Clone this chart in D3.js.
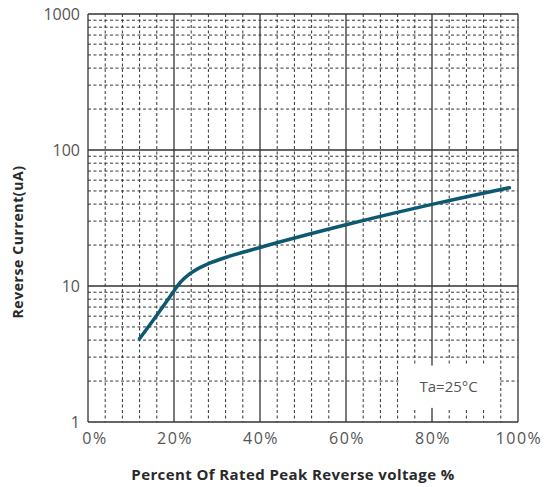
<!DOCTYPE html>
<html>
<head>
<meta charset="utf-8">
<script src="https://cdn.jsdelivr.net/npm/d3@7"></script>
<style>
  body { margin: 0; background: #fff; }
  svg { display: block; }
</style>
</head>
<body>
<svg id="chart" width="557" height="487"></svg>
<script>
// curve
const pct = [12, 16, 20, 21, 24, 28, 32, 40, 60, 80, 98]
const current = [4.1, 6.1, 9.2, 10.2, 12.5, 14.6, 16.2, 19.2, 28.2, 39.8, 52.8]

const xTicks = [0, 20, 40, 60, 80, 100]
const xTickLabels = ["0%", "20%", "40%", "60%", "80%", "100%"]
const yTicks = [1, 10, 100, 1000]
const yTickLabels = ["1", "10", "100", "1000"]
const legendText = "Ta=25°C"

const width = 557
const height = 487
const margin = {top: 14, left: 88, right: 39, bottom: 65}

const svg = d3.select("#chart")

const x = d3.scaleLinear().domain([0, 100]).range([margin.left, width - margin.right])
const y = d3.scaleLog().domain([1, 1000]).range([height - margin.bottom, margin.top])

const grid = svg.append("g")

// minor vertical lines every 4%
const xMinor = d3.range(4, 100, 4).filter(d => d % 20 !== 0)
grid.selectAll(".vminor").data(xMinor).join("line")
    .attr("x1", d => x(d)).attr("x2", d => x(d))
    .attr("y1", y(1000)).attr("y2", y(1))
    .attr("stroke", "#333").attr("stroke-width", 1)
    .attr("stroke-dasharray", "3,2.5")

// minor horizontal lines 2..9 in every decade
let yMinor = []
for (const dec of [1, 10, 100]) {
    for (let k = 2; k <= 9; k++) yMinor.push(dec * k)
}
grid.selectAll(".hminor").data(yMinor).join("line")
    .attr("x1", x(0)).attr("x2", x(100))
    .attr("y1", d => y(d)).attr("y2", d => y(d))
    .attr("stroke", "#333").attr("stroke-width", 1)
    .attr("stroke-dasharray", "3,2.5")

// major lines
grid.selectAll(".vmajor").data(xTicks).join("line")
    .attr("x1", d => x(d)).attr("x2", d => x(d))
    .attr("y1", y(1000)).attr("y2", y(1))
    .attr("stroke", "#333").attr("stroke-width", 1.3)
grid.selectAll(".hmajor").data(yTicks).join("line")
    .attr("x1", x(0)).attr("x2", x(100))
    .attr("y1", d => y(d)).attr("y2", d => y(d))
    .attr("stroke", "#333").attr("stroke-width", 1.3)

// legend box
const lx0 = x(72.2), lx1 = x(95.5)
const ly0 = y(2.6), ly1 = y(1.27)
svg.append("rect")
    .attr("x", lx0).attr("y", ly0)
    .attr("width", lx1 - lx0).attr("height", ly1 - ly0)
    .attr("fill", "#fff")
svg.append("text")
    .attr("x", (lx0 + lx1) / 2).attr("y", (ly0 + ly1) / 2 + 5)
    .attr("text-anchor", "middle")
    .attr("font-family", "Open Sans, sans-serif").attr("font-size", 15)
    .attr("fill", "#555")
    .text(legendText)

// curve
const line = d3.line()
    .x((d, i) => x(pct[i]))
    .y((d, i) => y(current[i]))
    .curve(d3.curveMonotoneX)
svg.append("path")
    .datum(current)
    .attr("d", line)
    .attr("fill", "none")
    .attr("stroke", "#0d5a70")
    .attr("stroke-width", 3.5)
    .attr("stroke-linecap", "round")

// tick labels
svg.selectAll(".ylab").data(yTicks).join("text")
    .attr("x", x(0) - 8).attr("y", d => y(d) + 6)
    .attr("text-anchor", "end")
    .attr("font-family", "Open Sans, sans-serif").attr("font-size", 16)
    .attr("fill", "#555")
    .text((d, i) => yTickLabels[i])

svg.selectAll(".xlab").data(xTicks).join("text")
    .attr("x", (d, i) => x(d) + (i === 0 ? 7 : 1)).attr("y", height - 43)
    .attr("text-anchor", "middle")
    .attr("font-family", "Open Sans, sans-serif").attr("font-size", 16)
    .attr("letter-spacing", 1.5)
    .attr("fill", "#555")
    .text((d, i) => xTickLabels[i])

// axis titles
svg.append("text")
    .attr("x", 293).attr("y", 480)
    .attr("text-anchor", "middle")
    .attr("font-family", "Open Sans, sans-serif").attr("font-size", 15)
    .attr("font-weight", "bold").attr("fill", "#2a2a2a")
    .attr("letter-spacing", 0.4)
    .text("Percent Of Rated Peak Reverse voltage %")

svg.append("text")
    .attr("transform", "translate(23,242) rotate(-90)")
    .attr("text-anchor", "middle")
    .attr("font-family", "Open Sans, sans-serif").attr("font-size", 14)
    .attr("font-weight", "bold").attr("fill", "#2a2a2a")
    .attr("letter-spacing", 0.6)
    .text("Reverse Current(uA)")
</script>
</body>
</html>
